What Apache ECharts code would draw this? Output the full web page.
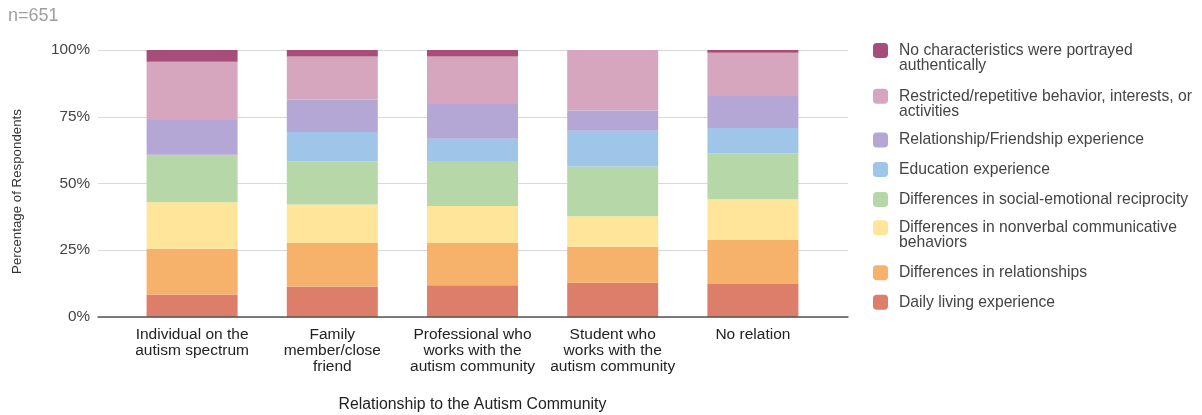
<!DOCTYPE html>
<html>
<head>
<meta charset="utf-8">
<script src="https://cdn.jsdelivr.net/npm/echarts@6/dist/echarts.min.js"></script>
<style>
html,body{margin:0;padding:0;background:#fff;}
#chart{width:1202px;height:415px;}
</style>
</head>
<body>
<div id="chart"></div>
<script>
// ---- data ----
const categories = [
  'Individual on the\nautism spectrum',
  'Family\nmember/close\nfriend',
  'Professional who\nworks with the\nautism community',
  'Student who\nworks with the\nautism community',
  'No relation'
];
const yTicks = [0, 25, 50, 75, 100];
const dailyLiving       = [8.4, 11.4, 11.9, 12.8, 12.4];
const relationships     = [17.2, 16.3, 15.8, 13.5, 16.4];
const nonverbal         = [17.4, 14.4, 13.9, 11.4, 15.3];
const socialEmotional   = [17.8, 16.2, 16.8, 18.7, 17.2];
const education         = [0, 11.0, 8.4, 13.4, 9.5];
const friendship        = [13.0, 12.2, 13.0, 7.5, 12.0];
const restricted        = [21.8, 16.1, 17.8, 22.7, 16.2];
const noCharacteristics = [4.4, 2.4, 2.4, 0, 1.0];

const seriesNames = [
  'Daily living experience',
  'Differences in relationships',
  'Differences in nonverbal communicative\nbehaviors',
  'Differences in social-emotional reciprocity',
  'Education experience',
  'Relationship/Friendship experience',
  'Restricted/repetitive behavior, interests, or\nactivities',
  'No characteristics were portrayed\nauthentically'
];
const seriesData = [dailyLiving, relationships, nonverbal, socialEmotional, education, friendship, restricted, noCharacteristics];
const colors = ['#dd7e6b', '#f6b26b', '#ffe599', '#b6d7a8', '#9fc5e8', '#b4a7d6', '#d5a6bd', '#a64d79'];

// legend icon centre y positions (top to bottom = series reversed)
const legendCentres = [50, 95.7, 139.5, 169, 199, 227.3, 272.3, 301.7];

const FONT = '"Liberation Sans", Arial, sans-serif';

const legends = [];
for (let k = 0; k < seriesNames.length; k++) {
  const idx = seriesNames.length - 1 - k;
  const name = seriesNames[idx];
  const twoLine = name.indexOf('\n') >= 0;
  legends.push({
    show: true,
    orient: 'vertical',
    left: 873,
    top: legendCentres[k] - (twoLine ? 22.5 : 7.5),
    padding: 0,
    itemWidth: 15,
    itemHeight: 15,
    icon: 'roundRect',
    data: [name],
    // a leading blank line keeps the icon level with the first text line
    formatter: function (n) { return n.indexOf('\n') >= 0 ? '\n' + n : n; },
    textStyle: { fontFamily: FONT, fontSize: 15.7, lineHeight: 15, color: '#444', padding: [0, 0, 0, 6] }
  });
}

const series = seriesNames.map((n, i) => ({
  name: n,
  type: 'bar',
  stack: 'total',
  xAxisIndex: 0,
  yAxisIndex: 0,
  barWidth: 91,
  itemStyle: { color: colors[i] },
  emphasis: { disabled: true },
  data: seriesData[i]
}));

const chart = echarts.init(document.getElementById('chart'), null, { renderer: 'canvas' });
chart.setOption({
  animation: false,
  backgroundColor: '#fff',
  color: colors,
  title: {
    text: 'n=651',
    left: 8, top: 7, padding: 0,
    textStyle: { fontFamily: FONT, fontSize: 18, fontWeight: 'normal', color: '#9e9e9e' }
  },
  legend: legends,
  grid: [
    { left: 122, right: 379, top: 50, bottom: 98, containLabel: false, outerBoundsMode: 'none' },
    { left: 98, right: 354, top: 50, bottom: 98, containLabel: false, outerBoundsMode: 'none' }
  ],
  xAxis: [
    {
      gridIndex: 0, type: 'category', data: categories,
      axisLine: { show: false }, axisTick: { show: false },
      axisLabel: { margin: 10, fontFamily: FONT, fontSize: 15.5, lineHeight: 16, color: '#222', interval: 0 },
      name: 'Relationship to the Autism Community',
      nameLocation: 'middle', nameGap: 80,
      nameTextStyle: { fontFamily: FONT, fontSize: 15.8, color: '#222' }
    },
    {
      gridIndex: 1, type: 'value', min: 0, max: 1, z: 5,
      axisLine: { show: true, onZero: false, lineStyle: { color: '#555', width: 1.5 } },
      axisTick: { show: false }, axisLabel: { show: false }, splitLine: { show: false }
    }
  ],
  yAxis: [
    {
      gridIndex: 0, type: 'value', min: 0, max: 100, interval: 25,
      axisLine: { show: false }, axisTick: { show: false }, axisLabel: { show: false }, splitLine: { show: false }
    },
    {
      gridIndex: 1, type: 'value', min: yTicks[0], max: yTicks[yTicks.length - 1], interval: 25,
      axisLine: { show: false }, axisTick: { show: false },
      axisLabel: { margin: 8, fontFamily: FONT, fontSize: 15.3, color: '#444', formatter: '{value}%' },
      splitLine: { show: true, lineStyle: { color: '#d9d9d9', width: 1 } },
      name: 'Percentage of Respondents',
      nameLocation: 'middle', nameGap: 74,
      nameTextStyle: { fontFamily: FONT, fontSize: 13.3, color: '#333', padding: [0, 16, 0, 0] }
    }
  ],
  series: series
});
</script>
</body>
</html>
